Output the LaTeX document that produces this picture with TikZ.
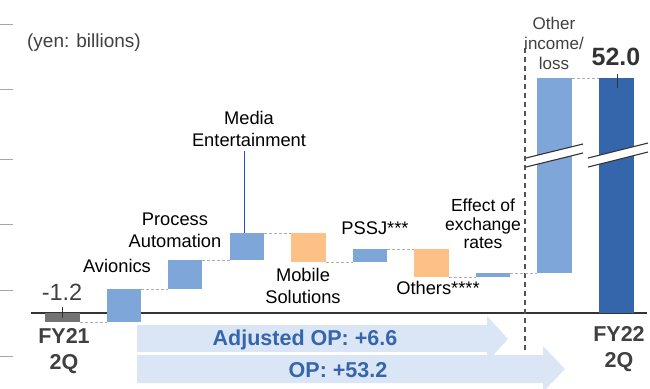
\documentclass[tikz,border=0pt]{standalone}
\usepackage{fontspec}
\setmainfont{Liberation Sans}
\definecolor{lblue}{HTML}{7FA6D9}
\definecolor{dblue}{HTML}{3566AB}
\definecolor{orng}{HTML}{FDC185}
\definecolor{gbar}{HTML}{737373}
\definecolor{arw}{HTML}{DAE6F6}
\definecolor{txtg}{HTML}{404040}
\definecolor{meblue}{HTML}{1F4FC8}
\definecolor{axisc}{HTML}{333333}
\begin{document}
\begin{tikzpicture}[x=1pt,y=-1pt,
  bar/.style={inner sep=0pt,outer sep=0pt,minimum width=34pt,fill=#1,anchor=north west},
  conn/.style={draw=gray!65,dash pattern=on 3pt off 2pt,line width=0.8pt},
  lbl/.style={align=center,inner sep=0pt,font=\fontsize{18.3}{22}\selectfont},
  glbl/.style={lbl,text=txtg},
  bigb/.style={align=center,inner sep=0pt,font=\fontsize{21.5}{25.5}\selectfont\bfseries,text=txtg},
  arrtxt/.style={inner sep=0pt,font=\fontsize{21.5}{25}\selectfont\bfseries,text=dblue},
  brk/.style={draw=axisc,line width=1.1pt},
  lefttick/.style={draw=gray!70,line width=1pt}
]
\useasboundingbox (0,0) rectangle (650,388);
\clip (0,0) rectangle (650,388);

% left edge ticks
\foreach \yy in {24,89,159,224,290,356} {\draw[lefttick] (0,\yy) -- (13,\yy);}

% block arrows
\fill[arw] (137,355) -- (543,355) -- (543,346) -- (565,369) -- (543,392) -- (543,383) -- (137,383) -- cycle;
\fill[arw] (137,325) -- (487,325) -- (487,316) -- (508,339) -- (487,362) -- (487,352) -- (137,352) -- cycle;
\node[arrtxt] (adj) at (305,340) {Adjusted OP: +6.6};
\node[arrtxt] (op) at (338,370) {OP: +53.2};

% axis
\coordinate (axl) at (31,313);
\coordinate (axr) at (647,313);
\draw[axisc,line width=2pt] (axl) -- (axr);

% divider
\coordinate (dvt) at (525,48);
\coordinate (dvb) at (525,353);
\draw[draw=txtg!90,line width=1.2pt,dash pattern=on 5pt off 4pt] (dvt) -- (dvb);

% bars
\node[bar=gbar,minimum width=35pt,minimum height=9pt] (fy21) at (45,313) {};
\node[bar=lblue,minimum height=33pt] (av) at (107,289) {};
\node[bar=lblue,minimum height=29pt] (pa) at (168,260) {};
\node[bar=lblue,minimum height=27pt] (me) at (230,233) {};
\node[bar=orng,minimum width=35pt,minimum height=29pt] (ms) at (291,233) {};
\node[bar=lblue,minimum height=13pt] (pssj) at (353,249) {};
\node[bar=orng,minimum width=35pt,minimum height=28pt] (oth) at (414,249) {};
\node[bar=lblue,minimum height=4pt] (fx) at (476,273) {};
\node[bar=lblue,minimum width=35pt,minimum height=195pt] (oi) at (537,78) {};
\node[bar=dblue,minimum width=35pt,minimum height=235pt] (fy22) at (599,78) {};

% connectors
\draw[conn] (fy21.south east) -- (av.south west);
\draw[conn] (av.north east) -- (pa.south west);
\draw[conn] (pa.north east) -- (me.south west);
\draw[conn] (me.north east) -- (ms.north west);
\draw[conn] (ms.south east) -- (pssj.south west);
\draw[conn] (pssj.north east) -- (oth.north west);
\draw[conn] (oth.south east) -- (fx.south west);
\draw[conn] (fx.north east) -- (oi.south west);
\draw[conn] (oi.north east) -- (fy22.north west);

% break marks
\fill[white] (526,158) -- (583,144) -- (583,153) -- (526,167) -- cycle;
\draw[brk] (526,158) -- (583,144);
\draw[brk] (526,167) -- (583,153);
\fill[white] (588,158) -- (648,143) -- (648,152) -- (588,167) -- cycle;
\draw[brk] (588,158) -- (648,143);
\draw[brk] (588,167) -- (648,152);

% value ticks
\coordinate (t1a) at (62,307);
\coordinate (t1b) at (62,318);
\draw[axisc,line width=0.9pt] (t1a) -- (t1b);
\coordinate (t2a) at (617,74);
\coordinate (t2b) at (617,88);
\draw[axisc,line width=1pt] (t2a) -- (t2b);

% labels
\node[glbl,font=\fontsize{19}{22}\selectfont] (unit) at (84,43) {(yen: billions)};
\node[inner sep=0pt,font=\fontsize{23.5}{27}\selectfont,text=txtg] (v1) at (62,292) {-1.2};
\node[inner sep=0pt,font=\fontsize{25}{29}\selectfont\bfseries,text=axisc] (v2) at (616,57) {52.0};
\node[lbl] (avl) at (117,266) {Avionics};
\node[lbl] (pal) at (175,230) {Process\\Automation};
\node[lbl] (mel) at (249,129) {Media\\Entertainment};
\node[lbl] (msl) at (303,286) {Mobile\\Solutions};
\node[lbl] (pssjl) at (375,228) {PSSJ***};
\node[lbl] (othl) at (438,288) {Others****};
\node[lbl,font=\fontsize{17.5}{18.5}\selectfont] (fxl) at (483,224) {Effect of\\exchange\\rates};
\node[glbl,font=\fontsize{17}{20}\selectfont] (oil) at (554,43) {Other\\income/\\loss};
\node[bigb] (fy21l) at (64,351) {FY21\\2Q};
\node[bigb] (fy22l) at (619,349) {FY22\\2Q};

% media entertainment pointer
\coordinate (mep) at (244,151);
\draw[meblue,line width=1pt] (mep) -- (mep |- me.north);
\end{tikzpicture}
\end{document}
